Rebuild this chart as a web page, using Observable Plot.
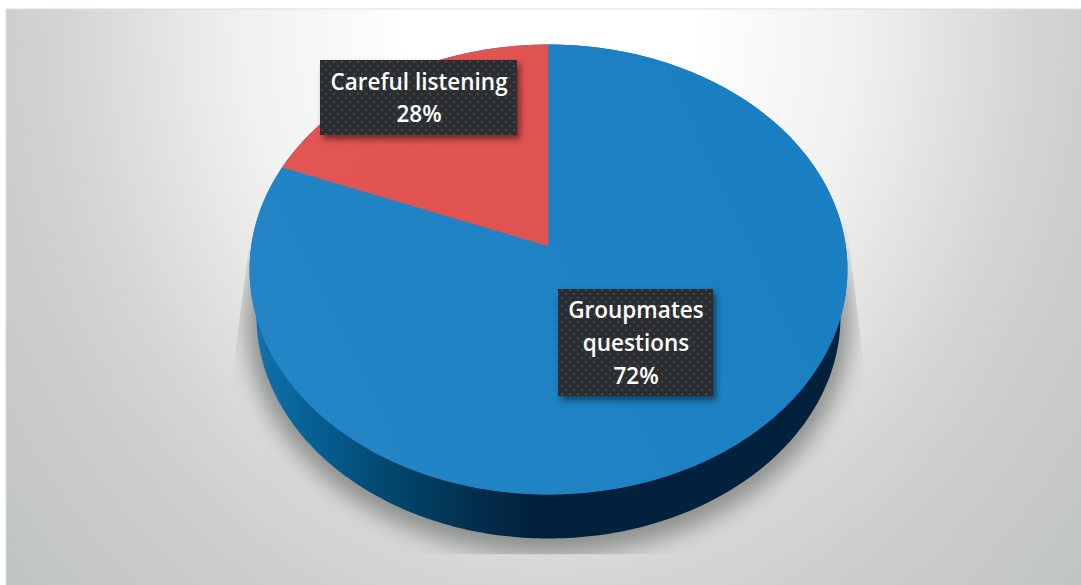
<!DOCTYPE html>
<html><head><meta charset="utf-8">
<script src="https://cdn.jsdelivr.net/npm/d3@7"></script>
<script src="https://cdn.jsdelivr.net/npm/@observablehq/plot@0.6"></script>
<style>
html,body{margin:0;padding:0;background:#fff;overflow:hidden}
svg{display:block}
.pie-shadow{clip-path:url(#shadowClip)}
.pie-shadow path{filter:blur(11px)}
</style></head><body><div id="chart"></div>
<script>
// Data
const categories = ["Careful listening", "Groupmates questions"];
const labelLines = [["Careful listening"], ["Groupmates", "questions"]];
const labelledPercents = [28, 72];            // printed on the labels
const drawnShares = [19, 81];                 // slice sizes as actually drawn in the picture
const sliceColors = ["url(#redTop)", "url(#blueTop)"];

// Layout (view geometry of the tilted disc)
const W = 1081, H = 585;
const cx = 548, apexY = 246, a = 297.4, b = 222.6, k = -0.1022;
const lower = {cy: 316, rx: 292, ry: 222};
const shadow = {cy: 320, rx: 302, ry: 234};
const labelBoxes = [{x1: 320, x2: 517, y1: 60, y2: 135}, {x1: 558, x2: 713, y1: 289, y2: 396}];

const rim = (t) => {
  const u = Math.sin(t), v = -Math.cos(t), d = 1 + k * v;
  return {x: cx + a * u / d, y: apexY + b * v / d};
};
const arc = (from, to) => d3.range(0, 241).map(i => rim(from + (to - from) * i / 240));
const ellipse = ({cy, rx, ry}) => d3.range(0, 360).map(i => {
  const t = i * Math.PI / 180;
  return {x: cx + rx * Math.cos(t), y: cy + ry * Math.sin(t)};
});

// Slices run anticlockwise from the top, first category first
const apex = {x: cx, y: apexY};
const total = d3.sum(drawnShares);
let acc = 0;
const slices = drawnShares.map((s, i) => {
  const from = -acc / total * 2 * Math.PI; acc += s;
  const to = -acc / total * 2 * Math.PI;
  return {pts: [apex, ...arc(from, to)], fill: sliceColors[i]};
});
const labels = categories.map((c, i) => ({
  ...labelBoxes[i],
  text: [...labelLines[i], labelledPercents[i] + "%"].join("\n")
}));

const plot = Plot.plot({
  width: W, height: H, margin: 0,
  x: {domain: [0, W], range: [0, W], axis: null},
  y: {domain: [0, H], range: [0, H], axis: null},
  style: {background: "transparent"},
  marks: [
    Plot.rect([{x1: 6, x2: W + 2, y1: 9, y2: H + 2}], {x1: "x1", x2: "x2", y1: "y1", y2: "y2", fill: "url(#bg)", stroke: "#dcdddc", clip: false}),
    Plot.line(ellipse(shadow), {x: "x", y: "y", fill: "#7f817f", fillOpacity: 0.85, stroke: "none", className: "pie-shadow"}),
    Plot.line(ellipse(lower), {x: "x", y: "y", fill: "url(#wall)", stroke: "none"}),
    Plot.line(arc(0, 2 * Math.PI), {x: "x", y: "y", fill: "url(#blueTop)", stroke: "none"}),
    ...slices.map(s => Plot.line(s.pts, {x: "x", y: "y", fill: s.fill, stroke: "none"})),
    Plot.rect(labels, {x1: "x1", x2: "x2", y1: "y1", y2: "y2", fill: "url(#dots)",
      imageFilter: "drop-shadow(3px 4px 3px rgba(0,0,0,.5))"}),
    Plot.text(labels, {
      x: d => (d.x1 + d.x2) / 2, y: d => (d.y1 + d.y2) / 2 - 2.5, text: "text",
      fill: "#fff", fontFamily: "Open Sans", fontWeight: 600, fontSize: 22.5,
      lineHeight: 1.46, lineAnchor: "middle", textAnchor: "middle"
    })
  ]
});

const defs = d3.select(plot).insert("defs", ":first-child");
defs.html(`
  <radialGradient id="bg" gradientUnits="userSpaceOnUse" cx="550" cy="20" r="800"
      gradientTransform="translate(0 20) scale(1 1.18) translate(0 -20)">
    <stop offset="0" stop-color="#ffffff"/><stop offset=".18" stop-color="#ffffff"/>
    <stop offset=".39" stop-color="#f0f0ef"/><stop offset=".59" stop-color="#d5d7d5"/>
    <stop offset=".68" stop-color="#cdcfce"/><stop offset=".85" stop-color="#c3c6c6"/><stop offset="1" stop-color="#b9bcbc"/>
  </radialGradient>
  <linearGradient id="wall" gradientUnits="userSpaceOnUse" x1="255" y1="0" x2="530" y2="0">
    <stop offset="0" stop-color="#1272ad"/><stop offset=".22" stop-color="#065f92"/>
    <stop offset=".5" stop-color="#03466c"/><stop offset=".75" stop-color="#023252"/>
    <stop offset="1" stop-color="#02213c"/>
  </linearGradient>
  <linearGradient id="blueTop" gradientUnits="userSpaceOnUse" x1="300" y1="420" x2="800" y2="180">
    <stop offset="0" stop-color="#2385c5"/><stop offset="1" stop-color="#1a7fc2"/>
  </linearGradient>
  <linearGradient id="redTop" gradientUnits="userSpaceOnUse" x1="300" y1="100" x2="540" y2="240">
    <stop offset="0" stop-color="#e35552"/><stop offset="1" stop-color="#e05351"/>
  </linearGradient>
  <pattern id="dots" patternUnits="userSpaceOnUse" width="8" height="8">
    <rect width="8" height="8" fill="#2b2e31"/>
    <circle cx="2" cy="2" r=".9" fill="#505356"/><circle cx="6" cy="6" r=".9" fill="#505356"/>
  </pattern>
  <clipPath id="shadowClip"><polygon points="248,250 230,385 230,554 866,554 866,385 846,220"/></clipPath>`);
document.getElementById("chart").append(plot);
</script></body></html>
